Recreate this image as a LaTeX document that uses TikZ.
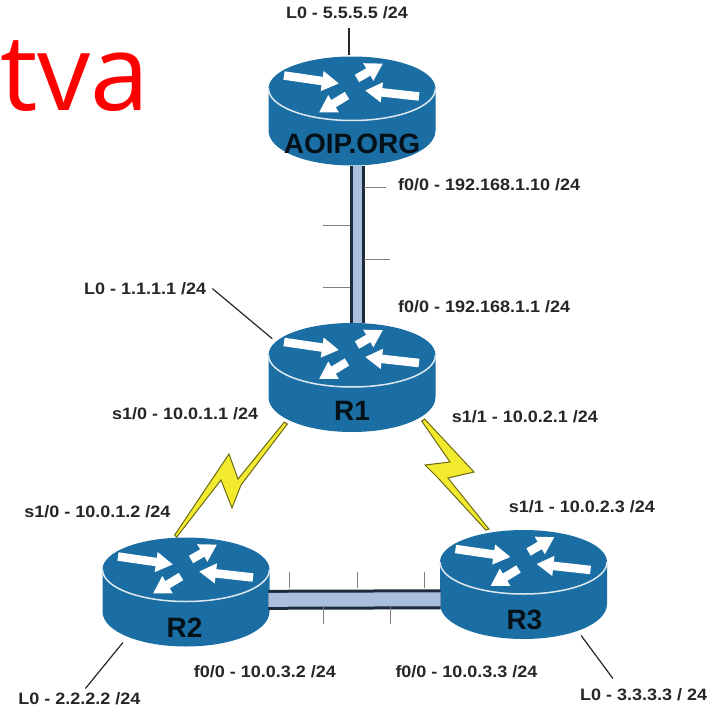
\documentclass[tikz,border=0pt]{standalone}
\usepackage{fontspec}
\setmainfont{Liberation Sans}
\newfontfamily\titlefont{Open Sans}
\newfontfamily\labelfont[FakeStretch=1.09]{Liberation Sans Bold}
\usetikzlibrary{positioning, calc, arrows.meta}
\definecolor{routerblue}{HTML}{1B6EA3}
\definecolor{wireblue}{HTML}{A9BFDC}
\definecolor{wiredark}{HTML}{1D2A3C}
\definecolor{boltyellow}{HTML}{F2EA2E}
\tikzset{
    routerbox/.style={minimum width=167pt, inner xsep=0pt, inner ysep=12pt, text height=86pt, text depth=0pt,
        font=\bfseries\fontsize{28}{28}\selectfont, text=black!85!routerblue},
    iplabel/.style={inner sep=0pt, text height=12pt, text depth=0pt,
        font=\labelfont\fontsize{16.5}{16.5}\selectfont, text=black!85},
    routerarrow/.style={white, line width=8.5pt, -{Triangle[width=19pt,length=17pt]}},
    lanwire/.style={draw=wireblue, line width=#1, preaction={draw=wiredark, line width=#1+6pt}},
    bolt/.style={draw=black!55!boltyellow, line width=1pt, fill=boltyellow},
    tickmark/.style={black!50, line width=.8pt},
    loopline/.style={black!85, line width=1.2pt},
    router/.pic={
        \fill[routerblue] (-83.5,-22) -- (-83.5,20) .. controls (-83.5,40) and (-46,55) .. (0,55)
            .. controls (46,55) and (83.5,40) .. (83.5,20) -- (83.5,-22)
            .. controls (83.5,-40) and (46,-54) .. (0,-54) .. controls (-46,-54) and (-83.5,-40) .. (-83.5,-22) -- cycle;
        \draw[white!85!routerblue, line width=1.5pt] (-83.5,-22) .. controls (-83.5,-4) and (-46,10) .. (0,10)
            .. controls (46,10) and (83.5,-4) .. (83.5,-22);
        \draw[routerarrow] (-68,-35) -- (-13,-27);
        \draw[routerarrow] (5,-32) -- (31,-47);
        \draw[routerarrow] (67,-14) -- (13,-20);
        \draw[routerarrow] (-5,-15) -- (-33,2);
    },
}

\begin{document}
\begin{tikzpicture}[x=1pt, y=-1pt]
\useasboundingbox (0,0) rectangle (718,707);

\pic at (352,110.5) {router};
\pic at (352,377) {router};
\pic at (186,591.5) {router};
\pic at (523.5,584) {router};

\node[routerbox] (aoip) at (352,110.5) {AOIP.ORG};
\node[routerbox] (r1) [below=157pt of aoip] {R1};
\node[routerbox] (r2) [below left=106pt and 0pt of r1] {R2};
\node[routerbox] (r3) [below right=98pt and 5pt of r1] {R3};

\node[anchor=base west, inner sep=0pt, text=red, font=\titlefont\fontsize{106}{106}\selectfont] (brand) at (0,110) {tva};

\node[iplabel] (lo5) [above=37pt of aoip, xshift=-5pt] {L0 - 5.5.5.5 /24};
\node[iplabel] (fa5) [below right=13pt and 46pt of aoip.south] {f0/0 - 192.168.1.10 /24};
\node[iplabel] (lo1) [above left=28pt and 62pt of r1.north west] {L0 - 1.1.1.1 /24};
\node[iplabel] (fa1) [above right=10pt and 46pt of r1.north] {f0/0 - 192.168.1.1 /24};
\node[iplabel] (se10) [below left=85pt and 10pt of r1.north west] {s1/0 - 10.0.1.1 /24};
\node[iplabel] (se11) [below right=88pt and 16pt of r1.north east] {s1/1 - 10.0.2.1 /24};
\node[iplabel] (se20) [above left=21pt and 14pt of r2.north] {s1/0 - 10.0.1.2 /24};
\node[iplabel] (se31) [above right=18pt and 68pt of r3.north west] {s1/1 - 10.0.2.3 /24};
\node[iplabel] (fa2) [below right=16pt and 9pt of r2.south] {f0/0 - 10.0.3.2 /24};
\node[iplabel] (fa3) [below right=16pt and 127pt of r2.south east] {f0/0 - 10.0.3.3 /24};
\node[iplabel] (lo2) [below left=43pt and 44pt of r2.south] {L0 - 2.2.2.2 /24};
\node[iplabel] (lo3) [below right=47pt and 55.5pt of r3.south] {L0 - 3.3.3.3 / 24};

\draw[lanwire=9pt] ([xshift=5pt]aoip.south) -- ([xshift=5pt]r1.north);
\draw[lanwire=14pt] ([yshift=-5.5pt]r2.east) -- ([yshift=-13pt]r3.west);

\foreach \y/\x/\e in {187/386/364, 259/390/364, 225/323/350, 287/323/350}
    \draw[tickmark] (\x,\y) -- (\e,\y);
\foreach \x in {289, 357, 424}
    \draw[tickmark] (\x,572) -- (\x,588);
\foreach \x in {323, 390}
    \draw[tickmark] (\x,607) -- (\x,624);

\draw[bolt] ($(r1.south west)+(19,-9)$) -- (241,485) -- (232,508) -- (221,480)
    -- ($(r2.north)+(-8,-2)$) -- ($(r2.north)+(-10,-4)$) -- (229,454) -- (238,479)
    -- ($(r1.south west)+(16,-11)$) -- cycle;
\draw[bolt] ($(r1.south east)+(-11,-14)$) -- (474,472) -- (448,478)
    -- ($(r3.north)+(-35.5,-2)$) -- ($(r3.north)+(-38.5,-1)$) -- (438,478) -- (425,465) -- (450,462)
    -- ($(r1.south east)+(-14,-12)$) -- cycle;

\draw[loopline] ([xshift=2pt,yshift=-10pt]lo5.south) -- ([xshift=-3pt]aoip.north);
\draw[loopline] ([xshift=6pt]lo1.east) -- ($(r1.north west)+(4,16)$);
\draw[loopline] ([xshift=6pt,yshift=4pt]lo2.north) -- ($(r2.south west)+(22,-7)$);
\draw[loopline] ($(lo3.north west)+(33,-10)$) -- ($(r3.south east)+(-27,-6)$);

\end{tikzpicture}
\end{document}
